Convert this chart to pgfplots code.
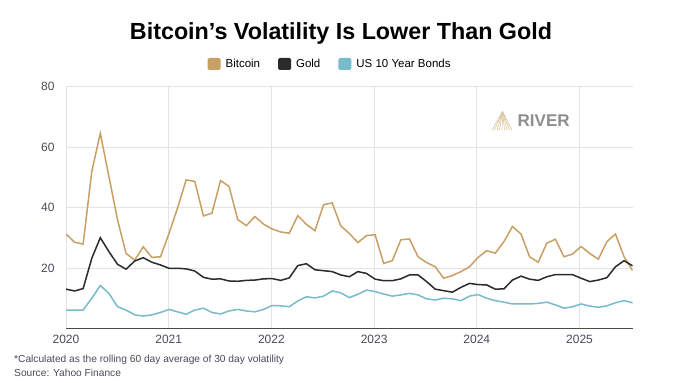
\documentclass[border=0pt]{standalone}
\usepackage{fontspec}
\setmainfont{Liberation Sans}
\usepackage{pgfplots}
\pgfplotsset{compat=1.18}
\usepackage{pgfplotstable}
\definecolor{btc}{HTML}{C9A064}
\definecolor{goldc}{HTML}{2B2B2B}
\definecolor{bond}{HTML}{78BBCB}
\definecolor{tickc}{HTML}{4A4A5C}
\definecolor{gridc}{HTML}{E3E3E6}
\definecolor{logogray}{HTML}{8E8E8E}
\definecolor{logotan}{HTML}{DCC59C}

\pgfplotstableread{
x btc gold bond
2020.000 31.3 13.1 6.2
2020.084 28.6 12.5 6.2
2020.167 28.0 13.3 6.2
2020.251 52.0 23.3 10.1
2020.334 64.6 30.1 14.3
2020.418 50.3 25.5 11.7
2020.502 36.0 21.3 7.3
2020.585 24.9 19.7 6.2
2020.669 22.7 22.4 4.6
2020.752 27.1 23.5 4.2
2020.836 23.6 22.0 4.6
2020.920 23.8 21.1 5.4
2021.003 31.5 20.0 6.4
2021.087 40.0 20.0 5.6
2021.170 49.2 19.8 4.8
2021.254 48.7 19.1 6.2
2021.338 37.3 17.0 6.8
2021.421 38.2 16.4 5.4
2021.505 49.0 16.5 4.9
2021.588 47.0 15.8 5.9
2021.672 36.1 15.7 6.4
2021.756 34.1 16.0 5.9
2021.839 37.1 16.1 5.6
2021.923 34.6 16.5 6.4
2022.006 33.0 16.6 7.7
2022.090 32.0 16.0 7.6
2022.174 31.6 16.8 7.3
2022.257 37.4 20.9 9.2
2022.341 34.5 21.5 10.6
2022.424 32.4 19.5 10.2
2022.508 41.0 19.2 10.8
2022.592 41.6 18.9 12.5
2022.675 34.0 17.8 11.9
2022.759 31.5 17.2 10.3
2022.842 28.5 18.9 11.4
2022.926 30.8 18.3 12.8
2023.010 31.1 16.4 12.3
2023.093 21.6 15.9 11.5
2023.177 22.5 15.9 10.8
2023.260 29.4 16.5 11.2
2023.344 29.7 17.8 11.7
2023.428 23.8 17.8 11.2
2023.511 21.9 15.6 9.9
2023.595 20.5 13.1 9.5
2023.678 16.7 12.6 10.1
2023.762 17.6 12.1 9.9
2023.846 18.9 13.7 9.3
2023.929 20.5 15.0 10.8
2024.013 23.6 14.6 11.3
2024.096 25.8 14.5 10.1
2024.180 25.0 13.1 9.3
2024.264 28.8 13.2 8.8
2024.347 33.8 16.1 8.2
2024.431 31.3 17.4 8.2
2024.514 23.8 16.4 8.2
2024.598 22.0 16.0 8.4
2024.682 28.3 17.2 8.8
2024.765 29.6 17.9 7.9
2024.849 23.8 17.9 6.8
2024.932 24.7 17.9 7.3
2025.016 27.2 16.7 8.2
2025.100 24.9 15.6 7.5
2025.183 23.0 16.1 7.1
2025.267 28.8 16.9 7.6
2025.350 31.3 20.5 8.6
2025.434 23.8 22.5 9.3
2025.518 19.2 20.8 8.6
}\data

\begin{document}
\begin{tikzpicture}
\fill[white] (0,0) rectangle (680bp,383bp);
\begin{axis}[
  at={(66bp,54.2bp)}, anchor=south west,
  scale only axis, width=566.7bp, height=242.1bp,
  xmin=2020, xmax=2025.518, ymin=0, ymax=80,
  xtick={2020,2021,2022,2023,2024,2025},
  xticklabels={2020,2021,2022,2023,2024,2025},
  ytick={20,40,60,80},
  axis x line*=bottom, axis y line*=left,
  y axis line style={draw=none},
  x axis line style={draw=goldc!85, line width=1.3bp},
  major tick length=0pt,
  grid=major, major grid style={gridc, line width=0.8bp},
  tick label style={font=\fontsize{12bp}{14bp}\selectfont, text=tickc},
  /pgf/number format/assume math mode=true,
  yticklabel style={xshift=-8bp},
  xticklabel style={yshift=-3bp},
  legend style={at={(0.466,1.094)}, anchor=center, draw=none, fill=none,
    font=\fontsize{11.5bp}{13bp}\selectfont, legend columns=3,
    /tikz/every even column/.append style={column sep=16bp}},
  legend cell align=left,
  legend image code/.code={\fill[#1, draw=none, rounded corners=1.5bp] (0bp,-6bp) rectangle (13bp,6bp);
    \path[draw=none, fill=none] (0bp,0bp) -- (16bp,0bp);},
]
\addplot[btc, line width=1.5bp] table[x=x, y=btc] {\data};
\addlegendentry{Bitcoin}
\addplot[goldc, line width=1.5bp] table[x=x, y=gold] {\data};
\addlegendentry{Gold}
\addplot[bond, line width=1.5bp] table[x=x, y=bond] {\data};
\addlegendentry{US 10 Year Bonds}
\end{axis}
% title
\node[font=\fontsize{23.3bp}{27bp}\selectfont\bfseries] at (341bp,350bp) {Bitcoin’s Volatility Is Lower Than Gold};
% logo
\foreach \bx in {492,494.5,...,512} {\draw[logotan, line width=0.6bp] (502.5bp,271.5bp) -- (\bx bp,253bp);}
\node[anchor=west, font=\fontsize{17bp}{19bp}\selectfont\bfseries, text=logogray, inner sep=0pt] at (517.5bp,262bp) {RIVER};
% footnotes
\node[anchor=west, font=\fontsize{10.2bp}{12bp}\selectfont, text=tickc, inner sep=0pt] at (14bp,23bp) {*Calculated as the rolling 60 day average of 30 day volatility};
\node[anchor=west, font=\fontsize{10.2bp}{12bp}\selectfont, text=tickc, inner sep=0pt] at (14bp,10bp) {Source: Yahoo Finance};
\end{tikzpicture}
\end{document}
